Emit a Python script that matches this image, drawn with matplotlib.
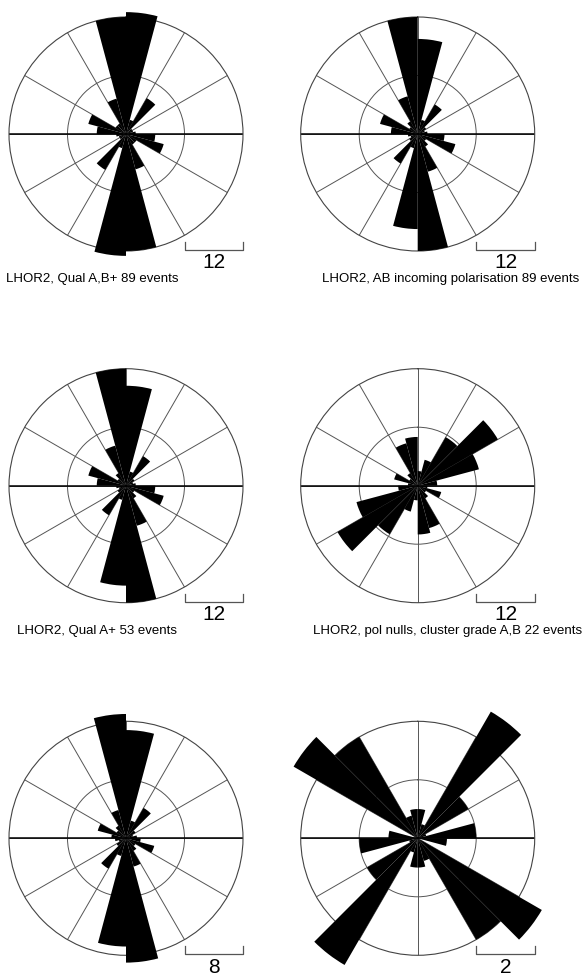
import numpy as np
import matplotlib
matplotlib.use("Agg")
from matplotlib import pyplot as plt

plt.rcParams['font.family'] = ['Liberation Sans', 'DejaVu Sans']

# bin counts, 15 degree bins from north (0-15, 15-30, ... 165-180), clockwise.
# the roses are axial, so the other half is the same
qual_ab = [25, 3, 8.5, 1.5, 1.5, 2, 6, 8, 2.5, 2.5, 7.5, 24]
incoming_pol = [19.5, 3, 7, 2, 1.5, 2, 5.5, 8, 2, 3, 8, 24]
qual_a = [20.5, 3, 7, 2, 1.5, 2, 6, 8, 2, 3, 8.5, 24]
pol_nulls = [3, 5.5, 11.5, 19, 13, 4, 2, 5, 2, 3, 9, 10]
panel5 = [14.8, 2.5, 4.8, 1.5, 1, 1.5, 2, 4, 1.5, 2, 4, 17]
panel6 = [1, 0.5, 5, 2, 0.3, 2, 1, 0, 4.9, 4, 0.8, 1]

roses = [qual_ab, incoming_pol, qual_a, pol_nulls, panel5, panel6]
scale_labels = ['12', '12', '12', '12', '8', '2']
titles = ['LHOR2, Qual A,B+ 89 events',
          'LHOR2, AB incoming polarisation 89 events',
          'LHOR2, Qual A+ 53 events',
          'LHOR2, pol nulls, cluster grade A,B 22 events',
          '', '']

W, H = 583, 980
R = 117
centers = [(126, 134), (417.7, 134), (126, 485.7), (417.7, 485.7),
           (126, 838.3), (417.7, 838.3)]
title_right = [178, 579, 177, 582, 0, 0]

fig = plt.figure(figsize=(W / 100, H / 100), dpi=100)

bin_w = np.deg2rad(15)
edges = np.arange(24) * bin_w

for i, half in enumerate(roses):
    cx, cy = centers[i]
    ax = fig.add_axes([(cx - R) / W, (H - cy - R) / H, 2 * R / W, 2 * R / H],
                      projection='polar')
    ax.set_theta_zero_location('N')
    ax.set_theta_direction(-1)
    outer = 2 * float(scale_labels[i])
    vals = np.concatenate([half, half])
    ax.bar(edges, vals, width=bin_w, align='edge', color='black',
           edgecolor='none', linewidth=0, clip_on=False, zorder=3)
    # east-west line is darker than the other spokes
    ax.plot([np.pi / 2, np.pi / 2], [0, outer], color='black', lw=1.1, zorder=2)
    ax.plot([3 * np.pi / 2, 3 * np.pi / 2], [0, outer], color='black', lw=1.1, zorder=2)
    ax.set_ylim(0, outer)
    ax.set_rgrids([outer / 2], labels=[''])
    ax.set_thetagrids(np.arange(0, 360, 30), labels=[''] * 12)
    ax.grid(True, color='#555555', lw=0.7)
    ax.spines['polar'].set_color('#444444')
    ax.spines['polar'].set_linewidth(0.8)
    ax.set_axisbelow(True)

    # scale bar, half the outer radius
    x0, x1 = (cx + R / 2) / W, (cx + R) / W
    yb = (H - cy - R + 1) / H
    yt = yb + 8 / H
    fig.add_artist(plt.Line2D([x0, x0, x1, x1], [yt, yb, yb, yt],
                              color='#555555', lw=0.9))
    fig.text((x0 + x1) / 2, (H - cy - R - 12) / H, scale_labels[i],
             ha='center', va='center', fontsize=15)
    if titles[i]:
        fig.text(title_right[i] / W, (H - cy - R - 28) / H, titles[i],
                 ha='right', va='center', fontsize=9.5)

fig.savefig('out.png', dpi=100)
